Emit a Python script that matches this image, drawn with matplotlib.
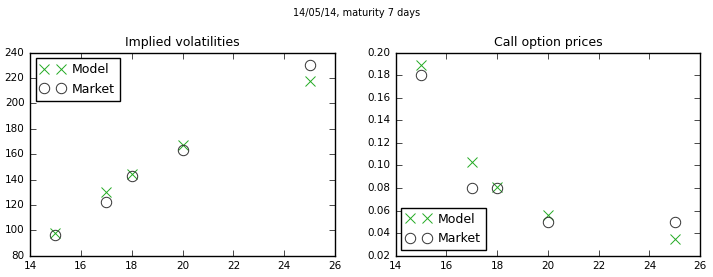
import numpy as np
import matplotlib
matplotlib.use('Agg')
import matplotlib.pyplot as plt

plt.style.use('classic')

strikes = [15, 17, 18, 20, 25]
iv_model = [98, 130, 144, 167, 218]
iv_market = [96, 122, 143, 163, 230]
price_model = [0.189, 0.103, 0.081, 0.056, 0.035]
price_market = [0.18, 0.08, 0.08, 0.05, 0.05]

fig = plt.figure(figsize=(7.13, 2.77), dpi=100)
fig.suptitle('14/05/14, maturity 7 days', fontsize=7, y=0.97)

legend_kw = dict(numpoints=2, fontsize=9, borderaxespad=0.45, handletextpad=0.55,
                 borderpad=0.4, labelspacing=0.5, handlelength=1.95)

ax1 = fig.add_axes([0.042, 0.077, 0.428, 0.733])
ax1.plot(strikes, iv_model, 'x', color='#22aa22', markersize=7.5, mew=0.7, label='Model')
ax1.plot(strikes, iv_market, 'o', mfc='none', mec='#333333', markersize=7.5, mew=0.7, label='Market')
ax1.set_xlim(14, 26)
ax1.set_ylim(80, 240)
ax1.set_title('Implied volatilities', fontsize=9)
ax1.tick_params(labelsize=7.5)
ax1.legend(loc='upper left', **legend_kw)

ax2 = fig.add_axes([0.555, 0.077, 0.427, 0.733])
ax2.plot(strikes, price_model, 'x', color='#22aa22', markersize=7.5, mew=0.7, label='Model')
ax2.plot(strikes, price_market, 'o', mfc='none', mec='#333333', markersize=7.5, mew=0.7, label='Market')
ax2.set_xlim(14, 26)
ax2.set_ylim(0.02, 0.20)
ax2.set_yticks(np.arange(0.02, 0.201, 0.02))
ax2.set_title('Call option prices', fontsize=9)
ax2.tick_params(labelsize=7.5)
ax2.legend(loc='lower left', **legend_kw)

fig.savefig('out.png', dpi=100)
